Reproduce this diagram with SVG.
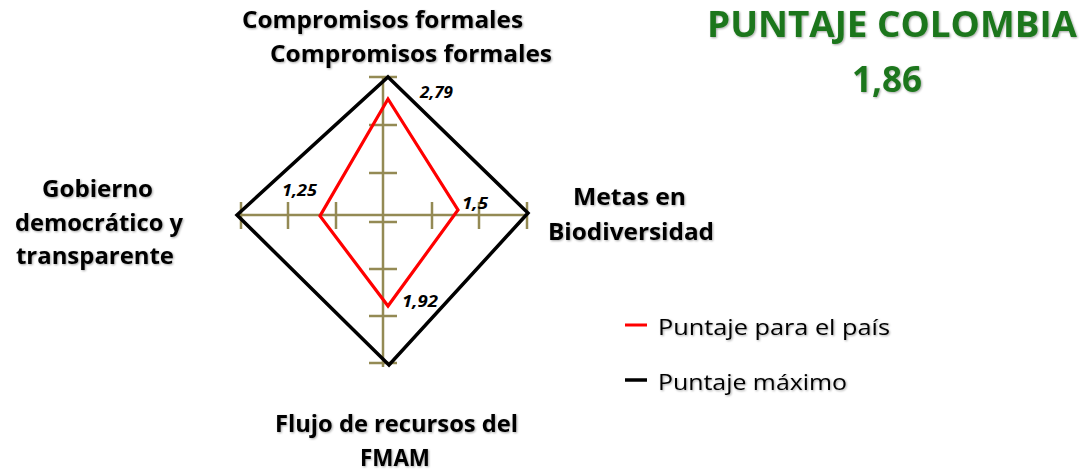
<svg xmlns="http://www.w3.org/2000/svg" width="1088" height="475" viewBox="0 0 1088 475">
  <defs>
    <filter id="sh" x="-5%" y="-20%" width="110%" height="150%">
      <feDropShadow dx="1" dy="1" stdDeviation="0.8" flood-color="#000" flood-opacity="0.35"/>
    </filter>
  </defs>
  <style>
    .lbl { font-family: "Open Sans", Lato, "Liberation Sans", sans-serif; font-weight: bold; font-size: 23px; fill: #000; filter: url(#sh); }
    .num { font-family: "Open Sans", Lato, "Liberation Sans", sans-serif; font-weight: bold; font-style: italic; font-size: 16px; fill: #000; }
    .leg { font-family: "Open Sans", Lato, "Liberation Sans", sans-serif; font-size: 22px; fill: #000; filter: url(#sh); }
    .ttl { font-family: "Open Sans", Lato, "Liberation Sans", sans-serif; font-weight: bold; font-size: 35px; fill: #1c761c; filter: url(#sh); }
    .axis { stroke: #948a54; stroke-width: 2.5; fill: none; }
  </style>
  <rect width="1088" height="475" fill="#ffffff"/>

  <g id="axes" class="axis">
    <line x1="238" y1="215" x2="528" y2="215"/>
    <line x1="383" y1="76" x2="383" y2="367"/>
    <path d="M241 202V229M288 202V229M336 202V229M432 202V229M479 202V229M527 202V229"/>
    <path d="M369 77H397M369 125H397M369 173H397M369 222H397M369 269H397M369 316H397M369 363H397"/>
  </g>

  <g id="connectors">
    <polygon id="max" points="388,77 528,213 389,365 237,215" fill="none" stroke="#000" stroke-width="3.5" stroke-linejoin="miter"/>
    <polygon id="pais" points="388,99 458,210 388,306 320,216" fill="none" stroke="#ff0000" stroke-width="3.2" stroke-linejoin="miter"/>
  </g>

  <g id="values">
    <text class="num" x="420" y="98" textLength="33" lengthAdjust="spacingAndGlyphs">2,79</text>
    <text class="num" x="282" y="196" textLength="35" lengthAdjust="spacingAndGlyphs">1,25</text>
    <text class="num" x="462" y="209" textLength="26" lengthAdjust="spacingAndGlyphs">1,5</text>
    <text class="num" x="402" y="307" textLength="36" lengthAdjust="spacingAndGlyphs">1,92</text>
  </g>

  <g id="node-compromisos">
    <text class="lbl" x="242" y="28" textLength="281" lengthAdjust="spacingAndGlyphs">Compromisos formales</text>
    <text class="lbl" x="270" y="62" textLength="282" lengthAdjust="spacingAndGlyphs">Compromisos formales</text>
  </g>

  <g id="node-gobierno">
    <text class="lbl" x="42" y="197" textLength="111" lengthAdjust="spacingAndGlyphs">Gobierno</text>
    <text class="lbl" x="15" y="231" textLength="168" lengthAdjust="spacingAndGlyphs">democrático y</text>
    <text class="lbl" x="16" y="264" textLength="158" lengthAdjust="spacingAndGlyphs">transparente</text>
  </g>

  <g id="node-metas">
    <text class="lbl" x="573" y="205" textLength="113" lengthAdjust="spacingAndGlyphs">Metas en</text>
    <text class="lbl" x="548" y="240" textLength="166" lengthAdjust="spacingAndGlyphs">Biodiversidad</text>
  </g>

  <g id="node-flujo">
    <text class="lbl" x="275" y="432" textLength="243" lengthAdjust="spacingAndGlyphs">Flujo de recursos del</text>
    <text class="lbl" x="360" y="466" textLength="70" lengthAdjust="spacingAndGlyphs">FMAM</text>
  </g>

  <g id="legend">
    <line x1="625" y1="325" x2="647" y2="325" stroke="#ff0000" stroke-width="3"/>
    <text class="leg" x="658" y="335" textLength="232" lengthAdjust="spacingAndGlyphs">Puntaje para el país</text>
    <line x1="625" y1="380" x2="647" y2="380" stroke="#000" stroke-width="3.5"/>
    <text class="leg" x="658" y="390" textLength="189" lengthAdjust="spacingAndGlyphs">Puntaje máximo</text>
  </g>

  <g id="title">
    <text class="ttl" x="707" y="37" textLength="370" lengthAdjust="spacingAndGlyphs">PUNTAJE COLOMBIA</text>
    <text class="ttl" x="852" y="92" textLength="70" lengthAdjust="spacingAndGlyphs">1,86</text>
  </g>
</svg>
